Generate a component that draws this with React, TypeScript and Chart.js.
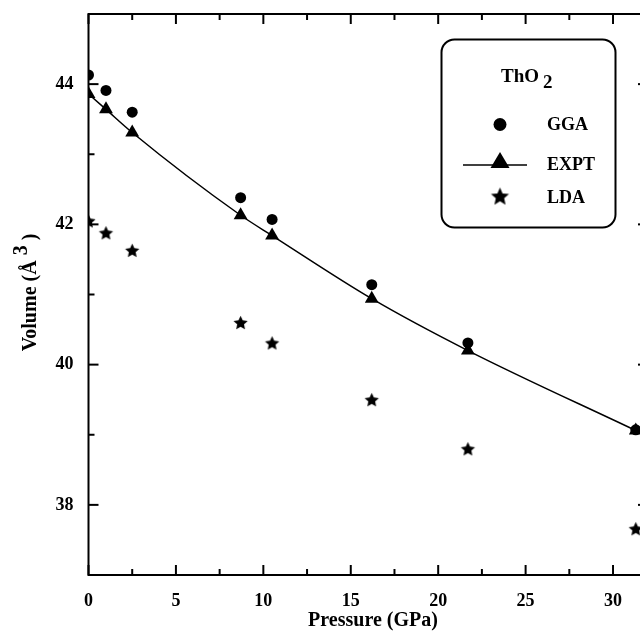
import React, { useEffect, useRef } from "react";
import { Chart, registerables } from "chart.js";

Chart.register(...registerables);

const pressure = [0, 1, 2.5, 8.7, 10.5, 16.2, 21.7, 31.3];
const ggaVolume = [44.13, 43.91, 43.6, 42.38, 42.07, 41.14, 40.31, 39.07];
const exptVolume = [43.86, 43.64, 43.31, 42.13, 41.84, 40.94, 40.2, 39.06];
const ldaVolume = [42.05, 41.88, 41.63, 40.6, 40.31, 39.5, 38.8, 37.66];

const xTickLabels = [0, 5, 10, 15, 20, 25, 30];
const xMinorTicks = [2.5, 7.5, 12.5, 17.5, 22.5, 27.5];
const yTickLabels = [38, 40, 42, 44];
const yMinorTicks = [37, 39, 41, 43, 45];

const FONT = "'Liberation Serif', 'DejaVu Serif', serif";

function makeStar(outer: number, inner: number): HTMLCanvasElement {
  const size = Math.ceil(outer * 2 + 2);
  const c = document.createElement("canvas");
  c.width = size;
  c.height = size;
  const g = c.getContext("2d")!;
  const cx = size / 2;
  const cy = size / 2 + outer * 0.1;
  g.beginPath();
  for (let i = 0; i < 10; i++) {
    const r = i % 2 === 0 ? outer : inner;
    const a = -Math.PI / 2 + (i * Math.PI) / 5;
    const px = cx + r * Math.cos(a);
    const py = cy + r * Math.sin(a);
    if (i === 0) g.moveTo(px, py);
    else g.lineTo(px, py);
  }
  g.closePath();
  g.fillStyle = "#000";
  g.fill();
  return c;
}

export default function App() {
  const ref = useRef<HTMLCanvasElement | null>(null);

  useEffect(() => {
    if (!ref.current) return;
    const star = makeStar(7.5, 3.6);
    const legendStar = makeStar(9.5, 4.4);

    const framePlugin = {
      id: "frame",
      afterDraw(chart: any) {
        const ctx = chart.ctx;
        const a = chart.chartArea;
        const xs = chart.scales.x;
        const ys = chart.scales.y;
        ctx.save();
        ctx.strokeStyle = "#000";
        ctx.lineWidth = 2;
        ctx.strokeRect(a.left, a.top, a.right - a.left, a.bottom - a.top);
        const tick = (x1: number, y1: number, x2: number, y2: number) => {
          ctx.beginPath();
          ctx.moveTo(x1, y1);
          ctx.lineTo(x2, y2);
          ctx.stroke();
        };
        xTickLabels.forEach((v) => {
          const p = xs.getPixelForValue(v);
          tick(p, a.bottom, p, a.bottom - 10);
          tick(p, a.top, p, a.top + 10);
        });
        xMinorTicks.forEach((v) => {
          const p = xs.getPixelForValue(v);
          tick(p, a.bottom, p, a.bottom - 6);
          tick(p, a.top, p, a.top + 6);
        });
        yTickLabels.forEach((v) => {
          const p = ys.getPixelForValue(v);
          tick(a.left, p, a.left + 10, p);
          tick(a.right, p, a.right - 10, p);
        });
        yMinorTicks.forEach((v) => {
          const p = ys.getPixelForValue(v);
          tick(a.left, p, a.left + 6, p);
          tick(a.right, p, a.right - 6, p);
        });

        // axis titles
        ctx.fillStyle = "#000";
        ctx.font = `bold 20px ${FONT}`;
        ctx.textAlign = "center";
        ctx.textBaseline = "middle";
        ctx.fillText("Pressure (GPa)", 373, 621);

        ctx.save();
        ctx.translate(36, 292.5);
        ctx.rotate(-Math.PI / 2);
        ctx.textBaseline = "alphabetic";
        ctx.textAlign = "left";
        ctx.font = `bold 20px ${FONT}`;
        const p1 = "Volume (Å";
        const w1 = ctx.measureText(p1).width;
        ctx.font = `bold 20px ${FONT}`;
        const w2 = ctx.measureText(" 3").width;
        const w3 = ctx.measureText(" )").width;
        const total = w1 + w2 + w3;
        let cx = -total / 2;
        ctx.fillText(p1, cx, 0);
        cx += w1;
        ctx.fillText(" 3", cx, -9);
        cx += w2;
        ctx.fillText(" )", cx, 0);
        ctx.restore();

        // legend box
        ctx.lineWidth = 2;
        ctx.beginPath();
        ctx.roundRect(441.5, 39.5, 174, 188, 13);
        ctx.stroke();
        ctx.textAlign = "left";
        ctx.textBaseline = "alphabetic";
        ctx.font = `bold 19px ${FONT}`;
        ctx.fillText("ThO", 501, 82);
        ctx.fillText("2", 543, 88);

        ctx.font = `bold 18px ${FONT}`;
        ctx.textBaseline = "middle";
        // GGA
        ctx.beginPath();
        ctx.arc(500, 124.5, 6.5, 0, Math.PI * 2);
        ctx.fill();
        ctx.fillText("GGA", 547, 125);
        // EXPT
        ctx.lineWidth = 1.5;
        tick(463, 165, 527, 165);
        ctx.beginPath();
        ctx.moveTo(500, 152);
        ctx.lineTo(509.5, 168);
        ctx.lineTo(490.5, 168);
        ctx.closePath();
        ctx.fill();
        ctx.fillText("EXPT", 547, 165);
        // LDA
        ctx.drawImage(legendStar, 500 - legendStar.width / 2, 196 - legendStar.height / 2);
        ctx.fillText("LDA", 547, 198);
        ctx.restore();
      },
    };

    const chart = new Chart(ref.current, {
      type: "scatter",
      data: {
        datasets: [
          {
            label: "EXPT",
            data: pressure.map((p, i) => ({ x: p, y: exptVolume[i] })),
            showLine: true,
            borderColor: "#000",
            borderWidth: 1.5,
            backgroundColor: "#000",
            pointStyle: "triangle",
            pointRadius: 8,
            pointBorderWidth: 0,
            cubicInterpolationMode: "monotone",
          },
          {
            label: "GGA",
            data: pressure.map((p, i) => ({ x: p, y: ggaVolume[i] })),
            backgroundColor: "#000",
            borderColor: "#000",
            pointStyle: "circle",
            pointRadius: 5.5,
            pointBorderWidth: 0,
          },
          {
            label: "LDA",
            data: pressure.map((p, i) => ({ x: p, y: ldaVolume[i] })),
            backgroundColor: "#000",
            borderColor: "#000",
            pointStyle: star as any,
            pointRadius: 8,
          },
        ],
      },
      options: {
        animation: false,
        responsive: false,
        maintainAspectRatio: false,
        events: [],
        layout: { padding: { top: 14, right: 12, left: 0, bottom: 0 } },
        plugins: { legend: { display: false }, tooltip: { enabled: false } },
        scales: {
          x: {
            type: "linear",
            min: 0,
            max: 32,
            grid: { display: false, drawTicks: false },
            border: { display: false },
            afterBuildTicks: (s: any) => {
              s.ticks = xTickLabels.map((v) => ({ value: v }));
            },
            afterFit: (s: any) => {
              s.height = 60;
              s.paddingLeft = 0;
              s.paddingRight = 0;
            },
            ticks: {
              padding: 16,
              color: "#000",
              maxRotation: 0,
              font: { family: FONT, size: 18, weight: "bold" },
            },
          },
          y: {
            type: "linear",
            min: 37,
            max: 45,
            grid: { display: false, drawTicks: false },
            border: { display: false },
            afterBuildTicks: (s: any) => {
              s.ticks = yTickLabels.map((v) => ({ value: v }));
            },
            afterFit: (s: any) => {
              s.width = 88.5;
              s.paddingTop = 0;
              s.paddingBottom = 0;
            },
            ticks: {
              padding: 15,
              color: "#000",
              font: { family: FONT, size: 18, weight: "bold" },
            },
          },
        },
      },
      plugins: [framePlugin],
    } as any);
    return () => chart.destroy();
  }, []);

  return (
    <div
      style={{
        position: "fixed",
        left: 0,
        top: 0,
        width: 640,
        height: 635,
        overflow: "hidden",
        background: "#fff",
      }}
    >
      <canvas ref={ref} width={660} height={635} style={{ display: "block" }} />
    </div>
  );
}
